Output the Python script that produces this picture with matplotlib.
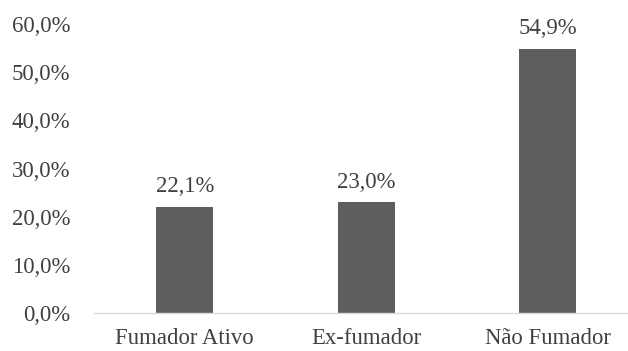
import matplotlib
matplotlib.use("Agg")
import matplotlib.pyplot as plt
from matplotlib.ticker import FuncFormatter

categories = ["Fumador Ativo", "Ex-fumador", "Não Fumador"]
percentages = [22.1, 23.0, 54.9]
y_ticks = [0, 10, 20, 30, 40, 50, 60]

plt.rcParams["font.family"] = ["Liberation Serif", "DejaVu Serif"]
text_color = "#404040"
font_size = 16.4

fig = plt.figure(figsize=(6.28, 3.51), dpi=100)
ax = fig.add_axes([0.1497, 0.1083, 0.8503, 0.823])

x = list(range(len(categories)))
bars = ax.bar(x, percentages, width=0.314, color="#5e5e5e")

for rect, val in zip(bars, percentages):
    ax.annotate(f"{val:.1f}%".replace(".", ","),
                (rect.get_x() + rect.get_width() / 2, rect.get_height()),
                xytext=(0, 7), textcoords="offset points",
                ha="center", va="bottom", fontsize=font_size, color=text_color)

ax.set_xlim(-0.5, 2.444)
ax.set_ylim(0, 60)
ax.set_xticks(x)
ax.set_xticklabels(categories)
ax.set_yticks(y_ticks)
ax.yaxis.set_major_formatter(FuncFormatter(lambda v, pos: f"{v:.1f}%".replace(".", ",")))

ax.tick_params(axis="both", length=0, labelsize=font_size, colors=text_color)
ax.tick_params(axis="y", pad=17)
ax.tick_params(axis="x", pad=11)

for side in ["top", "right", "left"]:
    ax.spines[side].set_visible(False)
ax.spines["bottom"].set_color("#d9d9d9")
ax.spines["bottom"].set_linewidth(1.0)

fig.savefig("out.png", dpi=100)
